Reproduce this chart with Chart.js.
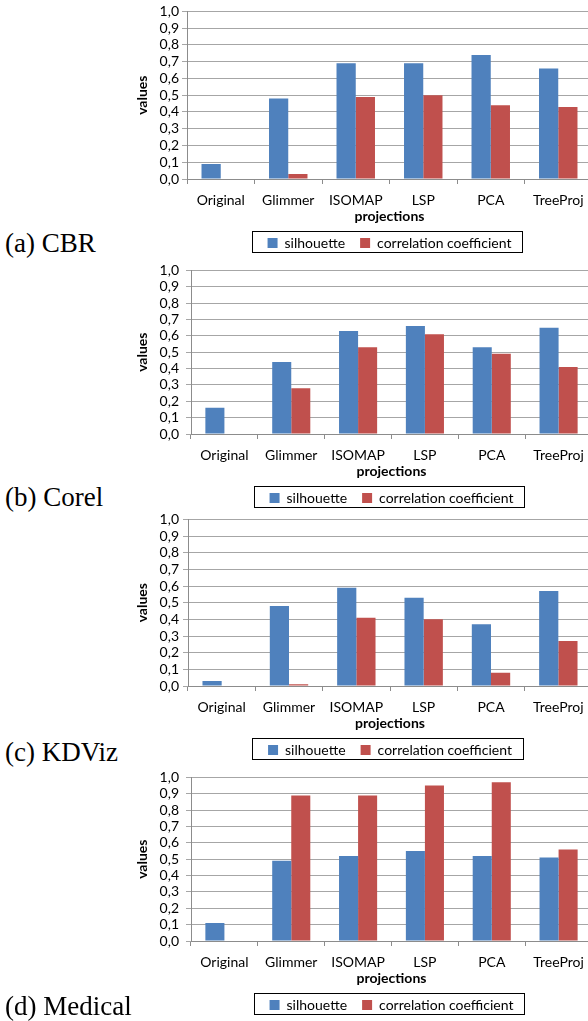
<!DOCTYPE html>
<html><head><meta charset="utf-8">
<script src="https://cdn.jsdelivr.net/npm/chart.js@4"></script>
<style>
html,body{margin:0;padding:0;background:#fff;overflow:hidden;width:588px;height:1021px;position:relative;}
.wrap{position:absolute;left:130px;width:462px;height:264px;}
.cap{position:absolute;left:5px;font-family:"Liberation Serif","Times New Roman",serif;font-size:27px;color:#000;line-height:1;white-space:nowrap;}
</style></head><body>
<div class="wrap" style="top:0px"><canvas id="c0"></canvas></div>
<div class="wrap" style="top:255px"><canvas id="c1"></canvas></div>
<div class="wrap" style="top:507px"><canvas id="c2"></canvas></div>
<div class="wrap" style="top:762px"><canvas id="c3"></canvas></div>
<div class="cap" style="top:230px">(a) CBR</div>
<div class="cap" style="top:484px">(b) Corel</div>
<div class="cap" style="top:739px">(c) KDViz</div>
<div class="cap" style="top:993px">(d) Medical</div>
<script>
const categories = ['Original','Glimmer','ISOMAP','LSP','PCA','TreeProj'];
const seriesNames = ['silhouette','correlation coefficient'];
const yTickLabels = ['0,0','0,1','0,2','0,3','0,4','0,5','0,6','0,7','0,8','0,9','1,0'];
const xTitle = 'projections';
const yTitle = 'values';

const cbrSilhouette = [0.09,0.48,0.69,0.69,0.74,0.66];
const cbrCorrelation = [0,0.03,0.49,0.50,0.44,0.43];
const corelSilhouette = [0.16,0.44,0.63,0.66,0.53,0.65];
const corelCorrelation = [0,0.28,0.53,0.61,0.49,0.41];
const kdvizSilhouette = [0.03,0.48,0.59,0.53,0.37,0.57];
const kdvizCorrelation = [0,0.01,0.41,0.40,0.08,0.27];
const medicalSilhouette = [0.11,0.49,0.52,0.55,0.52,0.51];
const medicalCorrelation = [0,0.89,0.89,0.95,0.97,0.56];

const panels = [
  [cbrSilhouette, cbrCorrelation],
  [corelSilhouette, corelCorrelation],
  [kdvizSilhouette, kdvizCorrelation],
  [medicalSilhouette, medicalCorrelation]
];
const axisWidths = [57, 61, 58, 61];
const tickPads = [3, 7, 4, 7];

const FONT = 'Lato';
const legendBorder = {
  id: 'legendBorder',
  afterDraw(chart) {
    const hb = chart.legend && chart.legend.legendHitBoxes;
    if (!hb || !hb.length) return;
    const ctx = chart.ctx;
    const last = hb[hb.length - 1];
    const l = Math.round(hb[0].left - 16);
    const r = Math.round(last.left + last.width + 11);
    const t = Math.round(hb[0].top - 5);
    const b = Math.round(hb[0].top + hb[0].height + 2);
    ctx.save();
    ctx.strokeStyle = '#000';
    ctx.lineWidth = 1;
    ctx.strokeRect(l + 0.5, t + 0.5, r - l, b - t);
    ctx.restore();
  }
};

panels.forEach((p, k) => {
  new Chart(document.getElementById('c' + k), {
    type: 'bar',
    data: {
      labels: categories,
      datasets: [
        {label: seriesNames[0], data: p[0], backgroundColor: '#4F81BD', borderWidth: 0},
        {label: seriesNames[1], data: p[1], backgroundColor: '#C0504D', borderWidth: 0}
      ]
    },
    options: {
      responsive: true,
      maintainAspectRatio: false,
      animation: false,
      categoryPercentage: 0.57,
      barPercentage: 1.0,
      layout: {padding: {top: 8, right: 0, bottom: 4, left: 0}},
      plugins: {
        tooltip: {enabled: false},
        legend: {
          position: 'bottom',
          fullSize: false,
          labels: {
            boxWidth: 10, boxHeight: 10, padding: 15, color: '#000',
            font: {family: FONT, size: 14}
          }
        }
      },
      scales: {
        x: {
          afterFit(scale) { scale.height = 42; },
          grid: {offset: true, drawOnChartArea: false, tickLength: 5, color: '#8c8c8c'},
          border: {display: true, color: '#8c8c8c'},
          ticks: {color: '#000', font: {family: FONT, size: 14}, padding: 8, maxRotation: 0, autoSkip: false},
          title: {display: true, text: xTitle, color: '#000', font: {family: FONT, size: 14, weight: 'bold'}, padding: {top: 0, bottom: -4}}
        },
        y: {
          min: 0, max: 1,
          afterFit(scale) { scale.width = axisWidths[k]; },
          ticks: {stepSize: 0.1, autoSkip: false, color: '#000', font: {family: FONT, size: 14}, padding: tickPads[k],
            callback: (v, i) => yTickLabels[i]},
          grid: {color: '#a6a6a6', tickLength: 5},
          border: {display: true, color: '#8c8c8c'},
          title: {display: true, text: yTitle, color: '#000', font: {family: FONT, size: 14, weight: 'bold'}, padding: {top: 4, bottom: 0}}
        }
      }
    },
    plugins: [legendBorder]
  });
});
</script>
</body></html>
